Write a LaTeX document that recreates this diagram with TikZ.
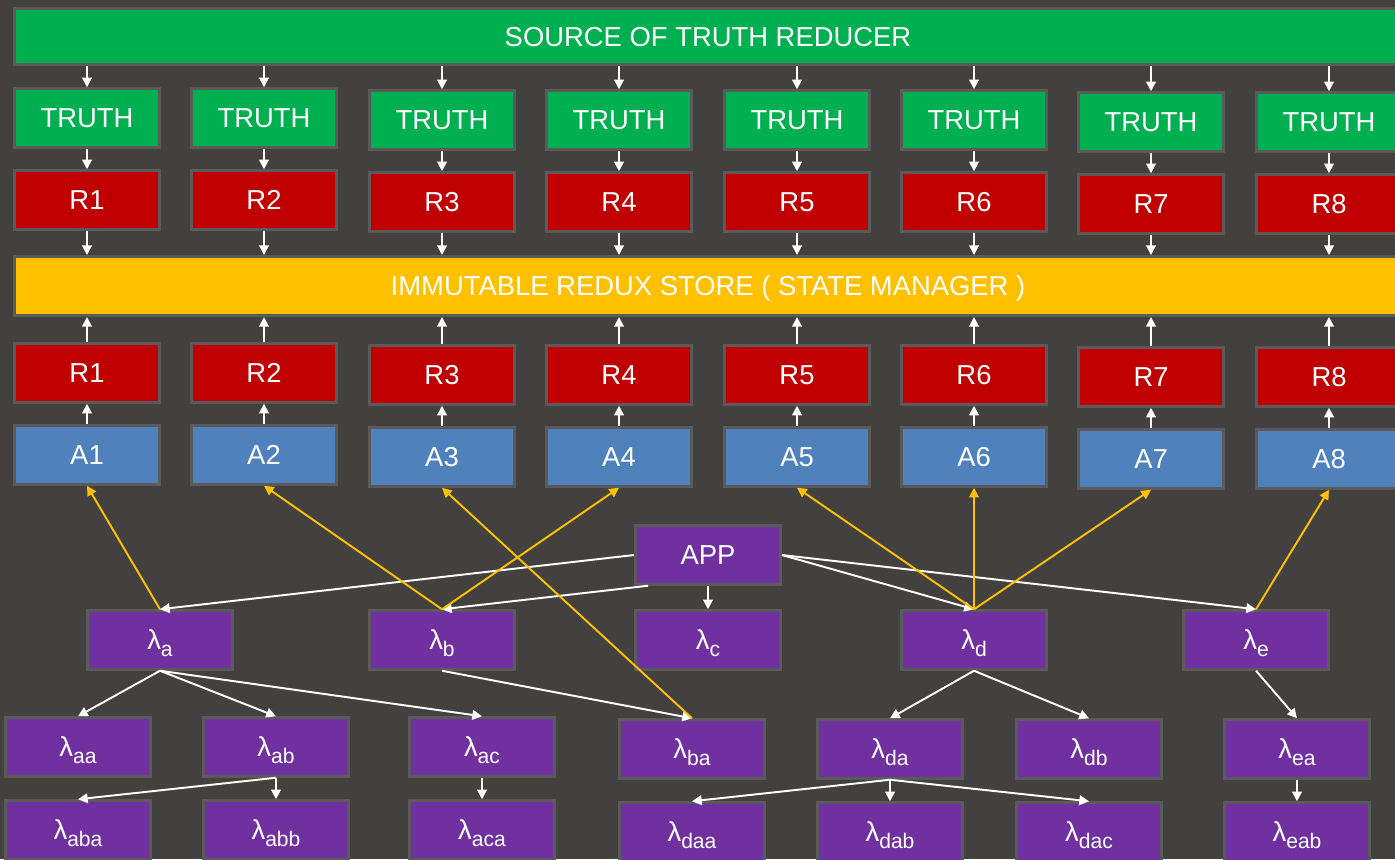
\documentclass[tikz,border=0pt]{standalone}
\usepackage{fontspec}
\setmainfont{Liberation Sans}
\usepackage{tikz}
\usetikzlibrary{arrows.meta}

\definecolor{bgcol}{RGB}{67,65,64}
\definecolor{rimgray}{RGB}{90,90,90}
\definecolor{truthgreen}{RGB}{0,176,80}
\definecolor{reducerred}{RGB}{192,0,0}
\definecolor{storeyellow}{RGB}{255,192,0}
\definecolor{actionblue}{RGB}{79,129,189}
\definecolor{lambdapurple}{RGB}{112,48,160}

\newcommand{\lam}[1]{λ\raisebox{-0.45ex}{\fontsize{12}{12}\selectfont #1}}

\begin{document}
\begin{tikzpicture}[x=0.02cm, y=-0.02cm, >={Triangle[length=5.5pt,width=5.5pt]}]
    \tikzstyle{box}=[shape=rectangle, draw=rimgray, line width=1.7pt, text=white, minimum width=2.9cm, minimum height=1.17cm, inner sep=0pt, text depth=0pt, font=\fontsize{15.6}{18}\selectfont]
    \tikzstyle{truth}=[box, fill=truthgreen]
    \tikzstyle{reducer}=[box, fill=reducerred]
    \tikzstyle{action}=[box, fill=actionblue]
    \tikzstyle{lambda}=[box, fill=lambdapurple]
    \tikzstyle{bar}=[box, minimum width=27.76cm]
    \tikzstyle{wire}=[->, draw=white, line width=1.1pt]
    \tikzstyle{hook}=[->, draw=storeyellow, line width=1.1pt]

    \useasboundingbox (0,0) rectangle (1395,859);
    \fill[bgcol] (0,0) rectangle (1395,859);
    \clip (0,0) rectangle (1395,859);

    % bars
    \node[bar, fill=truthgreen, minimum height=1.12cm]  (top) at (708,36.5) {SOURCE OF TRUTH REDUCER};
    \node[bar, fill=storeyellow, minimum height=1.18cm] (store) at (708,286) {IMMUTABLE REDUX STORE ( STATE MANAGER )};

    % truth
    \node[truth] (t1) at (87,118)   {TRUTH};
    \node[truth] (t2) at (264,118)  {TRUTH};
    \node[truth] (t3) at (442,120)  {TRUTH};
    \node[truth] (t4) at (619,120)  {TRUTH};
    \node[truth] (t5) at (797,120)  {TRUTH};
    \node[truth] (t6) at (974,120)  {TRUTH};
    \node[truth] (t7) at (1151,122) {TRUTH};
    \node[truth] (t8) at (1329,122) {TRUTH};

    % reducers above the store
    \node[reducer] (r1) at (87,200)   {R1};
    \node[reducer] (r2) at (264,200)  {R2};
    \node[reducer] (r3) at (442,202)  {R3};
    \node[reducer] (r4) at (619,202)  {R4};
    \node[reducer] (r5) at (797,202)  {R5};
    \node[reducer] (r6) at (974,202)  {R6};
    \node[reducer] (r7) at (1151,204) {R7};
    \node[reducer] (r8) at (1329,204) {R8};

    % reducers below the store
    \node[reducer] (rb1) at (87,373)   {R1};
    \node[reducer] (rb2) at (264,373)  {R2};
    \node[reducer] (rb3) at (442,375)  {R3};
    \node[reducer] (rb4) at (619,375)  {R4};
    \node[reducer] (rb5) at (797,375)  {R5};
    \node[reducer] (rb6) at (974,375)  {R6};
    \node[reducer] (rb7) at (1151,377) {R7};
    \node[reducer] (rb8) at (1329,377) {R8};

    % actions
    \node[action] (a1) at (87,455)   {A1};
    \node[action] (a2) at (264,455)  {A2};
    \node[action] (a3) at (442,457)  {A3};
    \node[action] (a4) at (619,457)  {A4};
    \node[action] (a5) at (797,457)  {A5};
    \node[action] (a6) at (974,457)  {A6};
    \node[action] (a7) at (1151,459) {A7};
    \node[action] (a8) at (1329,459) {A8};

    % lambdas
    \node[lambda] (app)  at (708,555)  {APP};
    \node[lambda] (la)   at (160,640)  {\lam{a}};
    \node[lambda] (lb)   at (442,640)  {\lam{b}};
    \node[lambda] (lc)   at (708,640)  {\lam{c}};
    \node[lambda] (ld)   at (974,640)  {\lam{d}};
    \node[lambda] (le)   at (1256,640) {\lam{e}};
    \node[lambda] (laa)  at (78,747)   {\lam{aa}};
    \node[lambda] (lab)  at (276,747)  {\lam{ab}};
    \node[lambda] (lac)  at (482,747)  {\lam{ac}};
    \node[lambda] (lba)  at (692,749)  {\lam{ba}};
    \node[lambda] (lda)  at (890,749)  {\lam{da}};
    \node[lambda] (ldb)  at (1089,749) {\lam{db}};
    \node[lambda] (lea)  at (1297,749) {\lam{ea}};
    \node[lambda] (laba) at (78,830)   {\lam{aba}};
    \node[lambda] (labb) at (276,830)  {\lam{abb}};
    \node[lambda] (laca) at (482,830)  {\lam{aca}};
    \node[lambda] (ldaa) at (692,832)  {\lam{daa}};
    \node[lambda] (ldab) at (890,832)  {\lam{dab}};
    \node[lambda] (ldac) at (1089,832) {\lam{dac}};
    \node[lambda] (leab) at (1297,832) {\lam{eab}};

    \path
    (t1 |- top.south) edge[wire] (t1)
    (t2 |- top.south) edge[wire] (t2)
    (t3 |- top.south) edge[wire] (t3)
    (t4 |- top.south) edge[wire] (t4)
    (t5 |- top.south) edge[wire] (t5)
    (t6 |- top.south) edge[wire] (t6)
    (t7 |- top.south) edge[wire] (t7)
    (t8 |- top.south) edge[wire] (t8)
    (t1) edge[wire] (r1)
    (t2) edge[wire] (r2)
    (t3) edge[wire] (r3)
    (t4) edge[wire] (r4)
    (t5) edge[wire] (r5)
    (t6) edge[wire] (r6)
    (t7) edge[wire] (r7)
    (t8) edge[wire] (r8)
    (r1) edge[wire] (r1 |- store.north)
    (r2) edge[wire] (r2 |- store.north)
    (r3) edge[wire] (r3 |- store.north)
    (r4) edge[wire] (r4 |- store.north)
    (r5) edge[wire] (r5 |- store.north)
    (r6) edge[wire] (r6 |- store.north)
    (r7) edge[wire] (r7 |- store.north)
    (r8) edge[wire] (r8 |- store.north)
    (rb1) edge[wire] (rb1 |- store.south)
    (rb2) edge[wire] (rb2 |- store.south)
    (rb3) edge[wire] (rb3 |- store.south)
    (rb4) edge[wire] (rb4 |- store.south)
    (rb5) edge[wire] (rb5 |- store.south)
    (rb6) edge[wire] (rb6 |- store.south)
    (rb7) edge[wire] (rb7 |- store.south)
    (rb8) edge[wire] (rb8 |- store.south)
    (a1) edge[wire] (rb1)
    (a2) edge[wire] (rb2)
    (a3) edge[wire] (rb3)
    (a4) edge[wire] (rb4)
    (a5) edge[wire] (rb5)
    (a6) edge[wire] (rb6)
    (a7) edge[wire] (rb7)
    (a8) edge[wire] (rb8)
            ;

    \path
    (app.west)  edge[wire] (la.north)
    ([xshift=0.28cm]app.south west) edge[wire] (lb.north)
    (app)       edge[wire] (lc)
    (app.east)  edge[wire] (ld.north)
    (app.east)  edge[wire] (le.north)
    (la.south)  edge[wire] (laa.north)
    (la.south)  edge[wire] (lab.north)
    (la.south)  edge[wire] (lac.north)
    (lb.south)  edge[wire] (lba.north)
    (lab.south) edge[wire] (laba.north)
    (lab)       edge[wire] (labb)
    (lac)       edge[wire] (laca)
    (ld.south)  edge[wire] (lda.north)
    (ld.south)  edge[wire] (ldb.north)
    (lda.south) edge[wire] (ldaa.north)
    (lda)       edge[wire] (ldab)
    (lda.south) edge[wire] (ldac.north)
    (le.south)  edge[wire] (lea.north)
    (lea)       edge[wire] (leab)
            ;

    \path
    (la.north)  edge[hook] (a1.south)
    (lb.north)  edge[hook] (a2.south)
    (lb.north)  edge[hook] (a4.south)
    (lba.north) edge[hook] (a3.south)
    (ld.north)  edge[hook] (a5.south)
    (ld.north)  edge[hook] (a6.south)
    (ld.north)  edge[hook] (a7.south)
    (le.north)  edge[hook] (a8.south)
            ;

\end{tikzpicture}
\end{document}
